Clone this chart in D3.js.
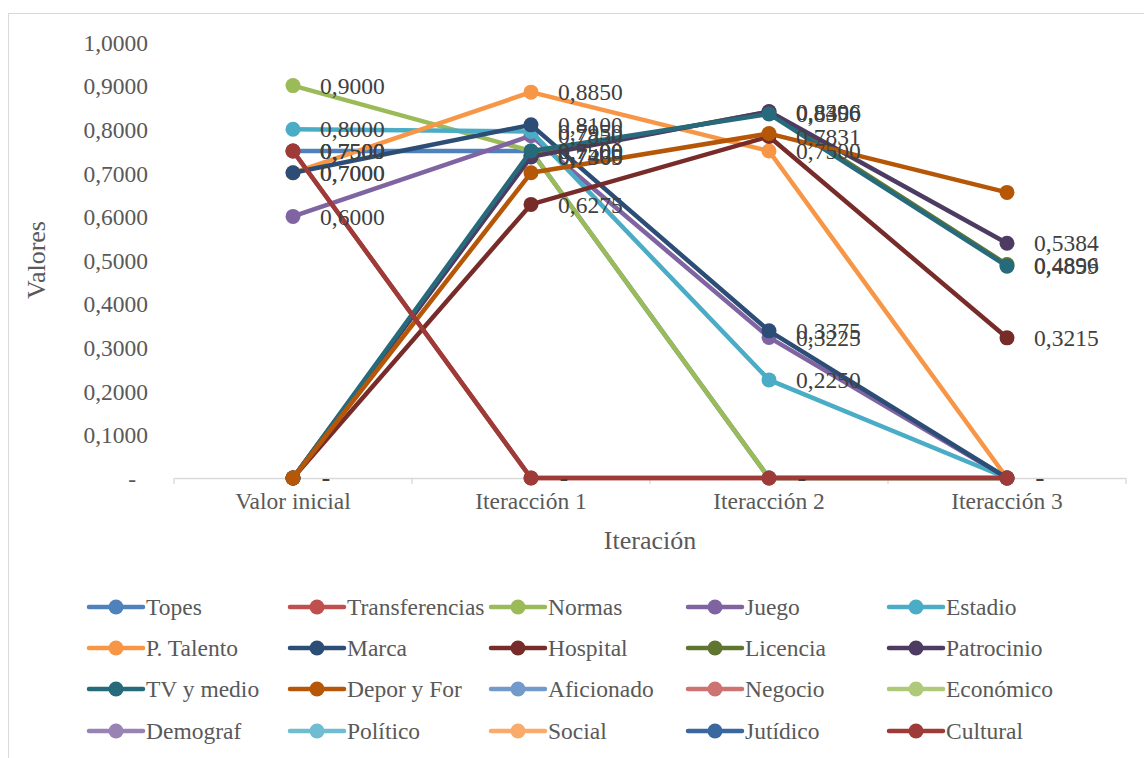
<!DOCTYPE html>
<html>
<head>
<meta charset="utf-8">
<script src="https://cdn.jsdelivr.net/npm/d3@7"></script>
<style>
  html, body { margin: 0; padding: 0; background: #ffffff; }
  svg { display: block; }
</style>
</head>
<body>
<svg id="chart" width="1144" height="758"></svg>
<script>
// Categories on the x axis
const categories = ["Valor inicial", "Iteracción 1", "Iteracción 2", "Iteracción 3"];

// Series names (legend order = drawing order)
const seriesNames = [
  "Topes", "Transferencias", "Normas", "Juego", "Estadio",
  "P. Talento", "Marca", "Hospital", "Licencia", "Patrocinio",
  "TV y medio", "Depor y For", "Aficionado", "Negocio", "Económico",
  "Demograf", "Político", "Social", "Jutídico", "Cultural"
];

// Values per series, one per category (null = series without data)
const topes          = [0.75, 0.75, 0, 0];
const transferencias = [0.75, 0, 0, 0];
const normas         = [0.90, 0.75, 0, 0];
const juego          = [0.60, 0.785, 0.3225, 0];
const estadio        = [0.80, 0.795, 0.225, 0];
const pTalento       = [0.70, 0.885, 0.75, 0];
const marca          = [0.70, 0.81, 0.3375, 0];
const hospital       = [0, 0.6275, 0.7831, 0.3215];
const licencia       = [0, 0.74, 0.8396, 0.4896];
const patrocinio     = [0, 0.7365, 0.8406, 0.5384];
const tvYMedio       = [0, 0.75, 0.835, 0.4859];
const deporYFor      = [0, 0.70, 0.79, 0.655];
const aficionado     = null;
const negocio        = null;
const economico      = null;
const demograf       = null;
const politico       = null;
const social         = null;
const juridico       = null;
const cultural       = [0.75, 0, 0, 0];

const seriesValues = [
  topes, transferencias, normas, juego, estadio,
  pTalento, marca, hospital, licencia, patrocinio,
  tvYMedio, deporYFor, aficionado, negocio, economico,
  demograf, politico, social, juridico, cultural
];

// Series that carry data labels
const labelled = seriesNames.map(n => n !== "Depor y For");

// Y axis tick values
const yTicks = [0, 0.1, 0.2, 0.3, 0.4, 0.5, 0.6, 0.7, 0.8, 0.9, 1.0];

const colors = [
  "#4F81BD", "#C0504D", "#9BBB59", "#8064A2", "#4BACC6",
  "#F79646", "#2C4D75", "#772C2A", "#5F7530", "#4D3B62",
  "#276A7C", "#B65708", "#729ACA", "#CD7371", "#AFC97A",
  "#9983B5", "#6FBDD1", "#F9AB6B", "#3A679E", "#9E3A38"
];

const FONT = "'Liberation Serif', 'Times New Roman', serif";
const FS = 23.5;
const fmt = v => v === 0 ? "-" : v.toFixed(4).replace(".", ",");

const svg = d3.select("#chart");

// Chart area border
svg.append("rect")
  .attr("x", 8.5).attr("y", 13.5)
  .attr("width", 1160).attr("height", 780)
  .attr("fill", "#ffffff")
  .attr("stroke", "#D9D9D9").attr("stroke-width", 1);

const plot = { left: 174, right: 1126, top: 42, bottom: 478 };

const x = d3.scaleBand().domain(categories).range([plot.left, plot.right]).padding(0);
const cx = c => x(c) + x.bandwidth() / 2;
const y = d3.scaleLinear().domain([0, 1]).range([plot.bottom, plot.top]);

// Y axis (labels only)
const yAxis = d3.axisLeft(y)
  .tickValues(yTicks)
  .tickSize(0)
  .tickPadding(0)
  .tickFormat(fmt);
const gy = svg.append("g").attr("transform", "translate(148,0)").call(yAxis);
gy.select(".domain").remove();
gy.selectAll("text")
  .attr("font-size", FS)
  .attr("fill", "#595959")
  .attr("dy", "0.35em")
  .attr("dx", d => d === 0 ? -12 : 0);

// X axis line and category labels
const xAxis = d3.axisBottom(x).tickSize(0).tickPadding(14);
const gx = svg.append("g").attr("transform", `translate(0,${plot.bottom})`).call(xAxis);
gx.select(".domain").attr("stroke", "#D9D9D9").attr("stroke-width", 1.3);
gx.selectAll("text").attr("font-size", FS).attr("fill", "#595959");

// Tick marks at category boundaries
const boundaries = categories.map(c => x(c)).concat([plot.right]);
svg.append("g").selectAll("line")
  .data(boundaries)
  .join("line")
  .attr("x1", d => d).attr("x2", d => d)
  .attr("y1", plot.bottom).attr("y2", plot.bottom + 6)
  .attr("stroke", "#D9D9D9").attr("stroke-width", 1.3);

// Axis titles
svg.append("text")
  .attr("transform", "translate(45,260) rotate(-90)")
  .attr("text-anchor", "middle")
  .attr("font-size", 26)
  .attr("fill", "#595959")
  .text("Valores");

svg.append("text")
  .attr("x", 650).attr("y", 549)
  .attr("text-anchor", "middle")
  .attr("font-size", 26)
  .attr("fill", "#595959")
  .text("Iteración");

// Lines and markers, series by series
const series = seriesNames.map((name, i) => ({
  name, color: colors[i], values: seriesValues[i], label: labelled[i]
}));

const line = d3.line()
  .x((d, i) => cx(categories[i]))
  .y(d => y(d));

const gSeries = svg.append("g");
series.filter(s => s.values).forEach(s => {
  const g = gSeries.append("g");
  g.append("path")
    .attr("d", line(s.values))
    .attr("fill", "none")
    .attr("stroke", s.color)
    .attr("stroke-width", 4.5)
    .attr("stroke-linejoin", "round")
    .attr("stroke-linecap", "round");
  g.selectAll("circle")
    .data(s.values)
    .join("circle")
    .attr("cx", (d, i) => cx(categories[i]))
    .attr("cy", d => y(d))
    .attr("r", 7.5)
    .attr("fill", s.color);
});

// Data labels to the right of each point
const gLabels = svg.append("g");
series.filter(s => s.values && s.label).forEach(s => {
  gLabels.selectAll(null)
    .data(s.values)
    .join("text")
    .attr("x", (d, i) => cx(categories[i]) + 27 + (d === 0 ? 2 : 0))
    .attr("y", d => y(d))
    .attr("dy", "0.35em")
    .attr("font-size", FS)
    .attr("fill", "#404040")
    .text(fmt);
});

// Legend: 5 columns x 4 rows
const legendCols = [89, 290, 491, 688, 889];
const legendRows = [607, 648, 689, 731];
const gLegend = svg.append("g");
series.forEach((s, i) => {
  const lx = legendCols[i % 5];
  const ly = legendRows[Math.floor(i / 5)];
  const g = gLegend.append("g").attr("transform", `translate(${lx},${ly})`);
  g.append("line")
    .attr("x1", 0).attr("x2", 54)
    .attr("y1", 0).attr("y2", 0)
    .attr("stroke", s.color)
    .attr("stroke-width", 4.5)
    .attr("stroke-linecap", "round");
  g.append("circle").attr("cx", 27).attr("cy", 0).attr("r", 7.5).attr("fill", s.color);
  g.append("text")
    .attr("x", 57).attr("y", 0)
    .attr("dy", "0.35em")
    .attr("font-size", FS)
    .attr("fill", "#595959")
    .text(s.name);
});

// Serif face for every text element
svg.selectAll("text").style("font-family", FONT);
</script>
</body>
</html>
